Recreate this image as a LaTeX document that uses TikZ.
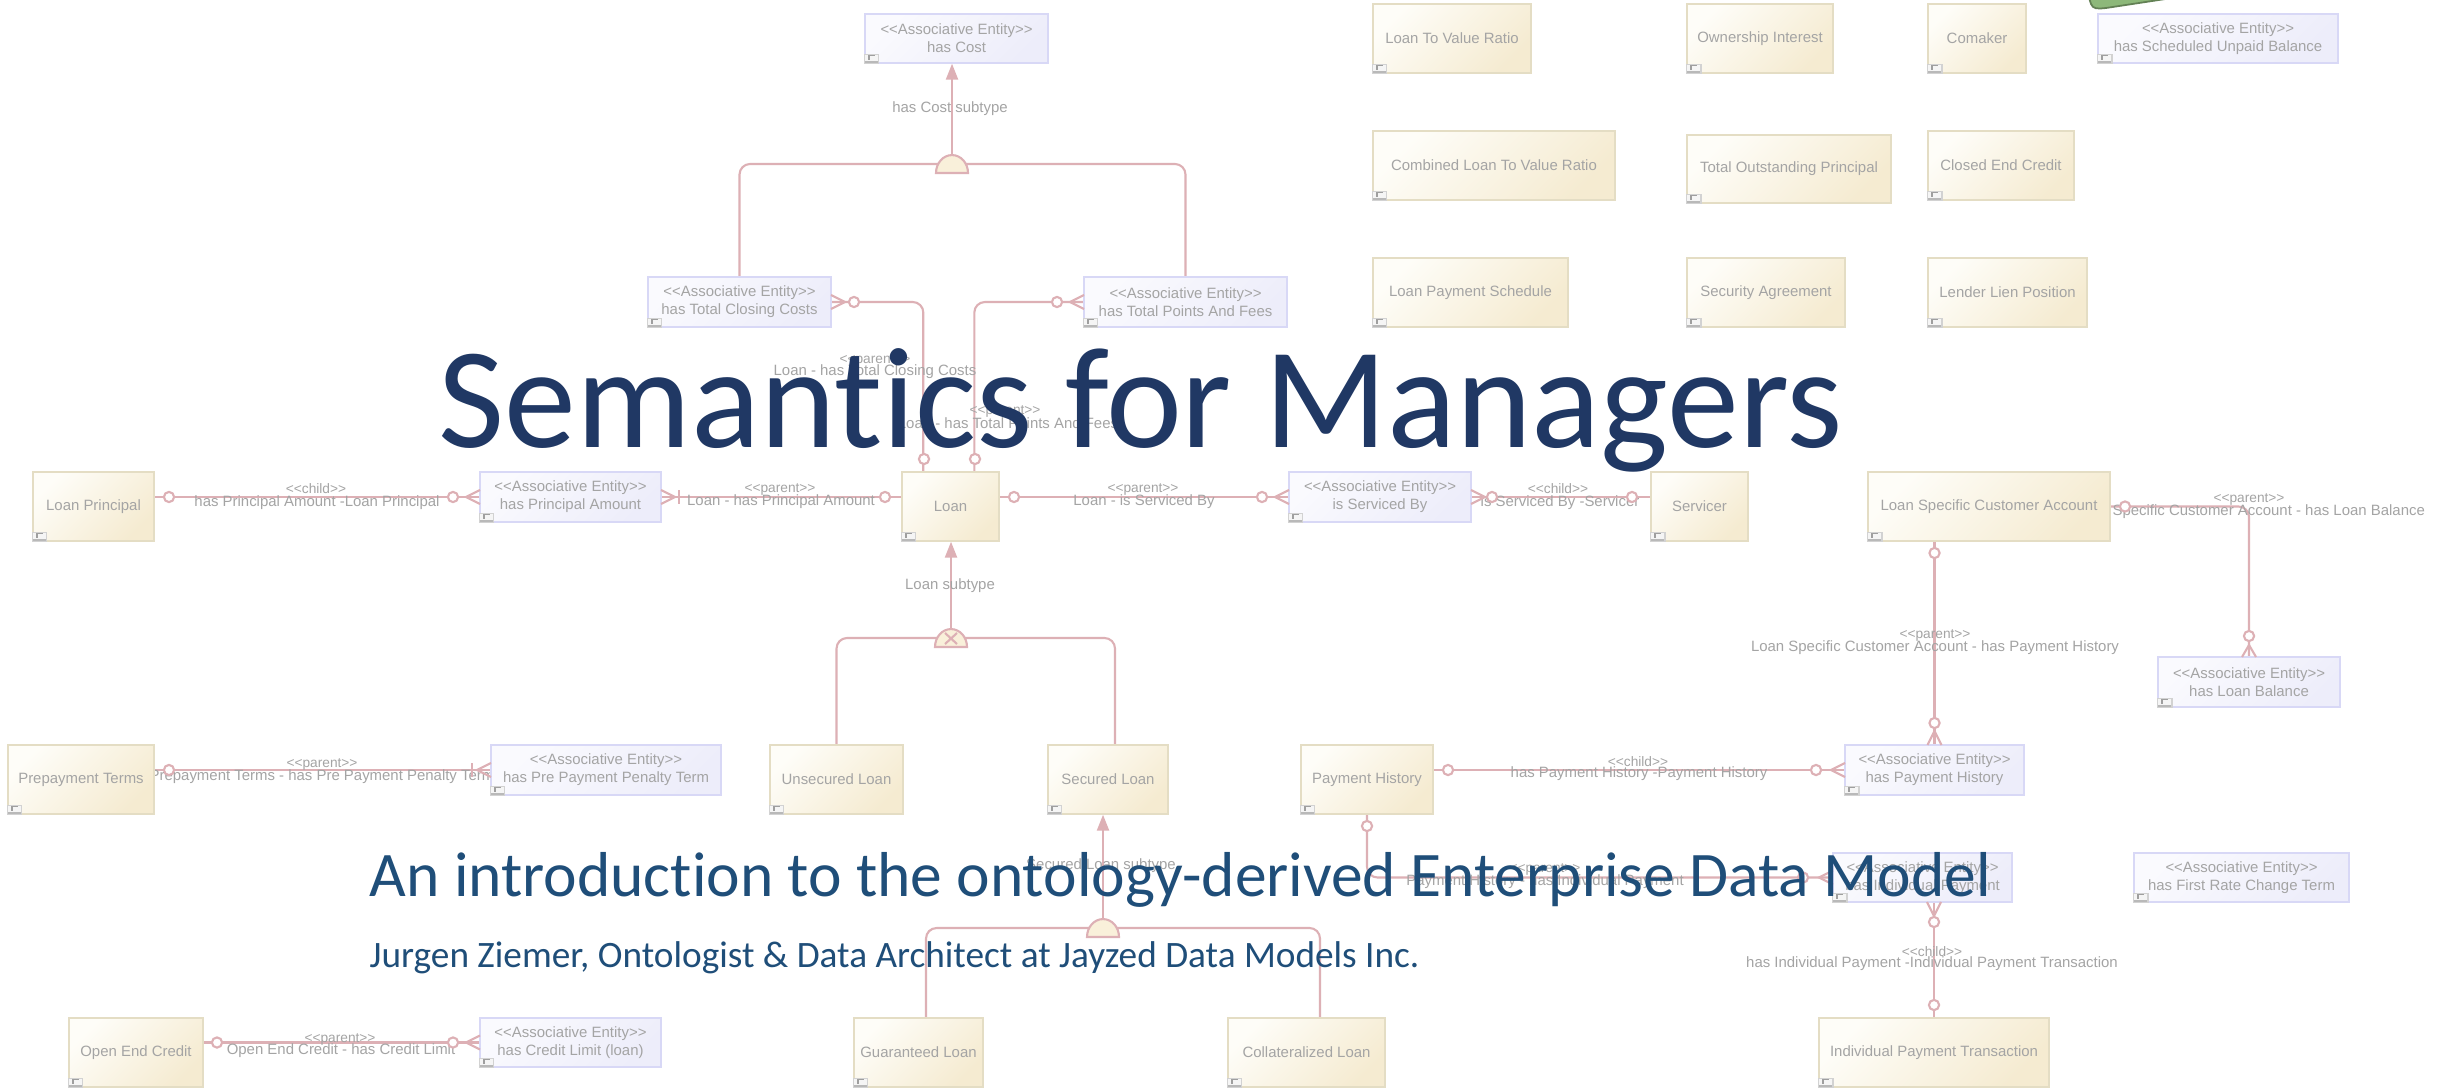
\documentclass[tikz,border=0pt]{standalone}
\usepackage{fontspec}
\setmainfont{Carlito}[Ligatures=NoCommon]
\newfontfamily\dfont{Liberation Sans}
\usetikzlibrary{arrows.meta,calc}

\definecolor{erdtxt}{HTML}{A4A4A4}
\definecolor{connc}{HTML}{DDB0B5}
\definecolor{entbd}{HTML}{E4DDC4}
\definecolor{enttop}{HTML}{FEFDF8}
\definecolor{entbot}{HTML}{F5EBD1}
\definecolor{ascbd}{HTML}{D8D8F6}
\definecolor{asctop}{HTML}{FAFAFE}
\definecolor{ascbot}{HTML}{EDEDFA}
\definecolor{domefill}{HTML}{F9F0DA}
\definecolor{titlec}{HTML}{203864}
\definecolor{subc}{HTML}{1F4E79}
\definecolor{greenc}{HTML}{8DB87A}

% guillemet-free double angle brackets (the TeX mapping would merge << and >>)
\newcommand\lsg{<\kern0pt<}
\newcommand\rsg{>\kern0pt>}
\newcommand\assocst{\lsg Associative Entity\rsg}

\tikzset{
  boxtxt/.style={font=\dfont\fontsize{4.25}{5.1}\selectfont, text=erdtxt, align=center, inner sep=0pt},
  ent/.style={boxtxt, draw=entbd, line width=0.6pt, top color=enttop, bottom color=entbot, shading angle=45},
  asc/.style={boxtxt, draw=ascbd, line width=0.6pt, top color=asctop, bottom color=ascbot, shading angle=45},
  conn/.style={draw=connc, line width=0.6pt, rounded corners=3pt},
  zmark/.style={draw=connc, line width=0.6pt, fill=white},
  gen/.style={draw=connc, line width=0.6pt, -{Triangle[length=4.5pt,width=3.4pt]}},
  dome/.style={draw=connc, line width=0.6pt, fill=domefill},
  stlab/.style={font=\dfont\fontsize{3.9}{4.4}\selectfont, text=erdtxt, inner sep=0pt},
  cnlab/.style={font=\dfont\fontsize{4.25}{5}\selectfont, text=erdtxt, inner sep=0pt},
}

% small model-element icon in the lower left corner of a box
\newcommand\boxicon[1]{%
  \begin{scope}[shift={(#1.south west)}]
    \fill[gray!8] (0.5,-0.5) rectangle (15,-10);
    \fill[gray!55] (0.5,-0.5) rectangle (15,-3);
    \draw[gray!75,line width=0.35pt] (5,-4.5) -- (5,-8.5) -- (11,-8.5);
    \draw[gray!35,line width=0.3pt] (0.5,-0.5) rectangle (15,-10);
  \end{scope}}
% box from corner (x1,y1) to (x2,y2): style, name, x1, y1, x2, y2, text
\newcommand\mkbox[7]{%
  \node[#1, minimum width={(#5-#3)*0.01cm}, minimum height={(#6-#4)*0.01cm}] (#2)
    at ({(#3+#5)/2},{(#4+#6)/2}) {#7};
  \boxicon{#2}}
% crow's feet: horizontal (edge x, meeting x, y) and vertical (edge y, meeting y, x)
\newcommand\crowx[3]{\draw[conn,rounded corners=0pt] (#1,#3-7) -- (#2,#3) -- (#1,#3+7);}
\newcommand\crowy[3]{\draw[conn,rounded corners=0pt] (#3-7,#1) -- (#3,#2) -- (#3+7,#1);}
\newcommand\zc[2]{\draw[zmark] (#1,#2) circle[radius=1.45pt];}
\newcommand\domeat[1]{\draw[dome] ($(#1)+(16,9)$) arc[start angle=0,end angle=180,x radius=4.55pt,y radius=5.1pt] -- cycle;}

\begin{document}
\begin{tikzpicture}[x=0.01cm,y=-0.01cm]
\useasboundingbox[fill=white] (0,0) rectangle (2443,1088);

% ---------- box outlines placed first (invisible) so connectors can refer to them;
% ---------- the boxes themselves are drawn on top further below
\begin{scope}[opacity=0]
\node[minimum width=1.83cm, minimum height=0.49cm] (hc) at (956.5,38.5) {};
\node[minimum width=1.83cm, minimum height=0.50cm] (tcc) at (739.5,302) {};
\node[minimum width=2.03cm, minimum height=0.50cm] (tpf) at (1185.5,302) {};
\node[minimum width=1.21cm, minimum height=0.69cm] (lp) at (93.5,506.5) {};
\node[minimum width=0.97cm, minimum height=0.69cm] (loan) at (950.5,506.5) {};
\node[minimum width=1.81cm, minimum height=0.50cm] (hpa) at (570.5,497) {};
\node[minimum width=1.82cm, minimum height=0.50cm] (isb) at (1380,497) {};
\node[minimum width=0.97cm, minimum height=0.69cm] (serv) at (1699.5,506.5) {};
\node[minimum width=2.42cm, minimum height=0.69cm] (lsca) at (1989,506.5) {};
\node[minimum width=1.82cm, minimum height=0.50cm] (hlb) at (2249,682) {};
\node[minimum width=1.46cm, minimum height=0.69cm] (ppt) at (81,779.5) {};
\node[minimum width=2.30cm, minimum height=0.50cm] (hppt) at (606,770) {};
\node[minimum width=1.33cm, minimum height=0.69cm] (unsec) at (836.5,779.5) {};
\node[minimum width=1.20cm, minimum height=0.69cm] (sec) at (1108,779.5) {};
\node[minimum width=1.32cm, minimum height=0.69cm] (ph) at (1367,779.5) {};
\node[minimum width=1.79cm, minimum height=0.50cm] (hph) at (1934.5,770) {};
\node[minimum width=1.79cm, minimum height=0.49cm] (hip) at (1922.5,877.5) {};
\node[minimum width=1.34cm, minimum height=0.69cm] (oec) at (136,1052.5) {};
\node[minimum width=1.81cm, minimum height=0.49cm] (hcl) at (570.5,1042.5) {};
\node[minimum width=1.29cm, minimum height=0.69cm] (gl) at (918.5,1052.5) {};
\node[minimum width=1.57cm, minimum height=0.69cm] (cl) at (1306.5,1052.5) {};
\node[minimum width=2.30cm, minimum height=0.69cm] (ipt) at (1934,1052.5) {};
\end{scope}

% ---------- generalisation trees
\coordinate (d1) at (952,164);
\coordinate (d2) at (951,638);
\coordinate (d3) at (1103,928);
\draw[conn] (tcc.north) |- (d1) -| (tpf.north);
\draw[gen] ($(d1)+(0,-9)$) -- (d1 |- hc.south);
\draw[conn] (unsec.north) |- (d2) -| ([xshift=0.07cm]sec.north);
\draw[gen] ($(d2)+(0,-9)$) -- (d2 |- loan.south);
\draw[conn] ([xshift=0.075cm]gl.north) |- (d3) -| ([xshift=0.135cm]cl.north);
\draw[gen] ($(d3)+(0,-9)$) -- (d3 |- sec.south);

% ---------- relationships
\draw[conn] (tcc.east) -| ([xshift=0.22cm]loan.north west);
\draw[conn] (tpf.west) -| ([xshift=0.73cm]loan.north west);
\draw[conn] (lp.east |- hpa.west) -- (hpa.west);
\draw[conn] (hpa.east) -- (loan.west |- hpa.east);
\draw[conn] (loan.east |- isb.west) -- (isb.west);
\draw[conn] (isb.east) -- (serv.west |- isb.east);
\draw[conn] (lsca.east) -| (hlb.north);
\draw[conn] (hph.north |- lsca.south) -- (hph.north);
\draw[conn] (ph.east |- hph.west) -- (hph.west);
\draw[conn] (ph.south) |- (hip.west);
\draw[conn] (ipt.north |- hip.south) -- (ipt.north);
\draw[conn] (ppt.east |- hppt.west) -- (hppt.west);
\draw[conn] (oec.east |- hcl.west) -- (hcl.west);

% ---------- relationship and subtype labels
\node[cnlab] (s1) at (950,109) {has Cost subtype};
\node[cnlab] (s2) at (950,586) {Loan subtype};
\node[cnlab] (s3) at (1101,866) {Secured Loan subtype};
\node[stlab] (r1s) at (875,360) {\lsg parent\rsg};
\node[cnlab] (r1n) at (875,372) {Loan - has Total Closing Costs};
\node[stlab] (r2s) at (1005,411) {\lsg parent\rsg};
\node[cnlab] (r2n) at (1008,423) {Loan - has Total Points And Fees};
\node[stlab] (r3s) at (316,489) {\lsg child\rsg};
\node[cnlab] (r3n) at (317,503) {has Principal Amount -Loan Principal};
\node[stlab] (r4s) at (780,489) {\lsg parent\rsg};
\node[cnlab] (r4n) at (781,502) {Loan - has Principal Amount};
\node[stlab] (r5s) at (1143,489) {\lsg parent\rsg};
\node[cnlab] (r5n) at (1144,502) {Loan - is Serviced By};
\node[stlab] (r6s) at (1558,489) {\lsg child\rsg};
\node[cnlab] (r6n) at (1560,503) {is Serviced By -Servicer};
\node[stlab] (r7s) at (2249,499) {\lsg parent\rsg};
\node[cnlab] (r7n) at (2250,512) {Loan Specific Customer Account - has Loan Balance};
\node[stlab] (r8s) at (1935,635) {\lsg parent\rsg};
\node[cnlab] (r8n) at (1935,648) {Loan Specific Customer Account - has Payment History};
\node[stlab] (r9s) at (322,764) {\lsg parent\rsg};
\node[cnlab] (r9n) at (322,777) {Prepayment Terms - has Pre Payment Penalty Term};
\node[stlab] (r10s) at (1638,762) {\lsg child\rsg};
\node[cnlab] (r10n) at (1639,774) {has Payment History -Payment History};
\node[stlab] (r11s) at (1545,869) {\lsg parent\rsg};
\node[cnlab] (r11n) at (1545,882) {Payment History - has Individual Payment};
\node[stlab] (r12s) at (1932,952) {\lsg child\rsg};
\node[cnlab] (r12n) at (1932,964) {has Individual Payment -Individual Payment Transaction};
\node[stlab] (r13s) at (340,1039) {\lsg parent\rsg};
\node[cnlab] (r13n) at (341,1051) {Open End Credit - has Credit Limit};

% ---------- entities
\mkbox{ent}{lp}{33}{472}{154}{541}{Loan Principal}
\mkbox{ent}{loan}{902}{472}{999}{541}{Loan}
\mkbox{ent}{serv}{1651}{472}{1748}{541}{Servicer}
\mkbox{ent}{lsca}{1868}{472}{2110}{541}{Loan Specific Customer Account}
\mkbox{ent}{ppt}{8}{745}{154}{814}{Prepayment Terms}
\mkbox{ent}{unsec}{770}{745}{903}{814}{Unsecured Loan}
\mkbox{ent}{sec}{1048}{745}{1168}{814}{Secured Loan}
\mkbox{ent}{ph}{1301}{745}{1433}{814}{Payment History}
\mkbox{ent}{oec}{69}{1018}{203}{1087}{Open End Credit}
\mkbox{ent}{gl}{854}{1018}{983}{1087}{Guaranteed Loan}
\mkbox{ent}{cl}{1228}{1018}{1385}{1087}{Collateralized Loan}
\mkbox{ent}{ipt}{1819}{1018}{2049}{1087}{Individual Payment Transaction}
\mkbox{ent}{ltv}{1373}{4}{1531}{73}{Loan To Value Ratio}
\mkbox{ent}{oi}{1687}{4}{1833}{73}{Ownership Interest}
\mkbox{ent}{com}{1928}{4}{2026}{73}{Comaker}
\mkbox{ent}{cltv}{1373}{131}{1615}{200}{Combined Loan To Value Ratio}
\mkbox{ent}{top}{1687}{135}{1891}{203}{Total Outstanding Principal}
\mkbox{ent}{cec}{1928}{131}{2074}{200}{Closed End Credit}
\mkbox{ent}{lps}{1373}{258}{1568}{327}{Loan Payment Schedule}
\mkbox{ent}{sa}{1687}{258}{1845}{327}{Security Agreement}
\mkbox{ent}{llp}{1928}{258}{2087}{327}{Lender Lien Position}

% ---------- associative entities
\mkbox{asc}{hc}{865}{14}{1048}{63}{\assocst\\has Cost}
\mkbox{asc}{tcc}{648}{277}{831}{327}{\assocst\\has Total Closing Costs}
\mkbox{asc}{tpf}{1084}{277}{1287}{327}{\assocst\\has Total Points And Fees}
\mkbox{asc}{hpa}{480}{472}{661}{522}{\assocst\\has Principal Amount}
\mkbox{asc}{isb}{1289}{472}{1471}{522}{\assocst\\is Serviced By}
\mkbox{asc}{hlb}{2158}{657}{2340}{707}{\assocst\\has Loan Balance}
\mkbox{asc}{hppt}{491}{745}{721}{795}{\assocst\\has Pre Payment Penalty Term}
\mkbox{asc}{hph}{1845}{745}{2024}{795}{\assocst\\has Payment History}
\mkbox{asc}{hip}{1833}{853}{2012}{902}{\assocst\\has Individual Payment}
\mkbox{asc}{frc}{2134}{853}{2349}{902}{\assocst\\has First Rate Change Term}
\mkbox{asc}{hcl}{480}{1018}{661}{1067}{\assocst\\has Credit Limit (loan)}
\mkbox{asc}{hsub}{2098}{14}{2338}{63}{\assocst\\has Scheduled Unpaid Balance}

% ---------- cardinality marks
\crowx{831}{845}{302}  \zc{854}{302}  \zc{924}{459}
\crowx{1084}{1070}{302} \zc{1057}{302} \zc{975}{459}
\zc{169}{497} \zc{453}{497} \crowx{480}{466}{497}
\crowx{661}{675}{497} \draw[conn] (679,490) -- (679,504); \zc{885}{497}
\zc{1014}{497} \zc{1262}{497} \crowx{1289}{1275}{497}
\crowx{1471}{1485}{497} \zc{1492}{497} \zc{1632}{497}
\zc{2125}{506.5} \crowy{657}{645}{2249} \zc{2249}{636}
\zc{1934.5}{553} \crowy{745}{731}{1934.5} \zc{1934.5}{723}
\zc{1448}{770} \crowx{1845}{1831}{770} \zc{1816}{770}
\zc{1367}{826} \crowx{1833}{1819}{877.5} \zc{1803}{877.5}
\crowy{902}{916}{1934} \zc{1934}{922} \zc{1934}{1005}
\zc{169}{770} \crowx{491}{477}{770} \draw[conn] (472,763) -- (472,777);
\zc{217}{1042.5} \zc{453}{1042.5} \crowx{480}{466}{1042.5}

% ---------- subtype discriminators
\domeat{d1}
\domeat{d2}
\draw[draw=connc,line width=0.6pt] (945,633) -- (957,644) (957,633) -- (945,644);
\domeat{d3}

% ---------- corner of a green shape at the top edge
\draw[draw=greenc!70!black, fill=greenc, line width=0.5pt]
  (2089,-2) -- (2091,4) .. controls (2093,9) and (2097,9) .. (2106,8) -- (2172,-2) -- cycle;

% ---------- title block
\node[font=\fontsize{40.9}{48}\selectfont, text=titlec, anchor=base, inner sep=0pt] (title) at (1141,447) {Semantics for Managers};
\node[font=\fontsize{18.05}{22}\selectfont, text=subc, anchor=base west, inner sep=0pt] (subtitle) at (369,896) {An introduction to the ontology-derived Enterprise Data Model};
\node[font=\fontsize{10.6}{12}\selectfont, text=subc, anchor=base west, inner sep=0pt] (author) at (369,967) {Jurgen Ziemer, Ontologist \& Data Architect at Jayzed Data Models Inc.};
\end{tikzpicture}
\end{document}
